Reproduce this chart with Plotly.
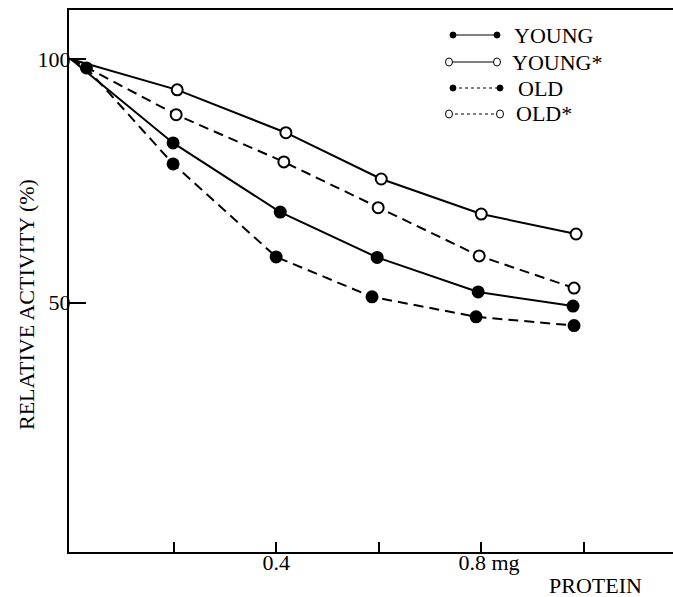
import plotly.graph_objects as go

# ---- data ----
young_x = [0, 0.199, 0.408, 0.597, 0.794, 0.979]
young_y = [100, 82.8, 68.6, 59.3, 52.2, 49.3]
young_star_x = [0, 0.207, 0.419, 0.605, 0.800, 0.985]
young_star_y = [100, 93.7, 84.9, 75.4, 68.2, 64.1]
old_x = [0, 0.03, 0.199, 0.400, 0.587, 0.790, 0.981]
old_y = [100, 98.2, 78.5, 59.4, 51.2, 47.1, 45.3]
old_star_x = [0, 0.205, 0.415, 0.599, 0.796, 0.981]
old_star_y = [100, 88.6, 78.9, 69.5, 59.6, 53.0]

x_tickvals = [0.2, 0.4, 0.6, 0.8, 1.0]
x_ticktext = ["", "0.4", "", "\u2002\u20090.8 mg", ""]
y_tickvals = [50, 100]
y_ticktext = ["50", "100"]

legend_names = ["YOUNG", "YOUNG*", "OLD", "OLD*"]

FONT = "Liberation Serif"
FS = 22
W, H = 673, 597
ML, MR, MT, MB = 69, 0, 10, 45
PW, PH = W - ML - MR, H - MT - MB


def px(xp):
    return (xp - ML) / PW


def py(yp):
    return (H - MB - yp) / PH


fig = go.Figure()


def add_series(x, y, filled, dash, name, size):
    sizes = [0] + [size] * (len(x) - 1)
    fig.add_trace(go.Scatter(
        x=x, y=y, mode="lines+markers", name=name,
        line=dict(color="#000000", width=2, dash=dash),
        marker=dict(size=sizes, symbol="circle", opacity=1,
                    color="#000000" if filled else "#ffffff",
                    line=dict(color="#000000", width=2)),
        showlegend=False,
    ))


add_series(young_star_x, young_star_y, False, "solid", legend_names[1], 11)
add_series(old_star_x, old_star_y, False, "10px,6px", legend_names[3], 11)
add_series(young_x, young_y, True, "solid", legend_names[0], 11)
add_series(old_x, old_y, True, "10px,6px", legend_names[2], 11)

fig.update_layout(
    width=W, height=H,
    margin=dict(l=ML, r=MR, t=MT, b=MB),
    paper_bgcolor="white", plot_bgcolor="white",
    font=dict(family=FONT, size=FS, color="black"),
)
fig.update_xaxes(
    range=[-0.004, 1.174], showgrid=False, zeroline=False,
    showline=True, linecolor="black", linewidth=2, mirror=True,
    ticks="inside", ticklen=10, tickwidth=2, tickcolor="black",
    tickvals=x_tickvals, ticktext=x_ticktext,
    tickfont=dict(family=FONT, size=FS), ticklabelstandoff=-10,
)
fig.update_yaxes(
    range=[-1.2, 110.1], showgrid=False, zeroline=False,
    showline=True, linecolor="black", linewidth=2,
    ticks="inside", ticklen=17, tickwidth=2, tickcolor="black",
    tickvals=y_tickvals, ticktext=y_ticktext,
    tickfont=dict(family=FONT, size=FS), ticklabelstandoff=-8,
)

annotations = [
    dict(text="RELATIVE ACTIVITY (%)", xref="paper", yref="paper",
         x=px(26), y=py(305), xanchor="center", yanchor="middle",
         textangle=-90, showarrow=False,
         font=dict(family=FONT, size=FS)),
    dict(text="PROTEIN", xref="paper", yref="paper",
         x=px(595), y=py(585), xanchor="center", yanchor="middle",
         showarrow=False,
         font=dict(family=FONT, size=FS)),
]

# custom legend
rows_y = [35, 62, 88, 114]
left_x = [453, 449, 453, 449]
right_x = [497, 497, 500, 500]
text_x = [512, 510, 516, 514]
fills = [True, False, True, False]
dashes = ["solid", "solid", "dot", "dot"]
shapes = []
for i, name in enumerate(legend_names):
    yy = py(rows_y[i])
    shapes.append(dict(type="line", xref="paper", yref="paper",
                       x0=px(left_x[i]), x1=px(right_x[i]), y0=yy, y1=yy,
                       line=dict(color="black", width=1, dash=dashes[i])))
    for cx in (left_x[i], right_x[i]):
        r = 3 if fills[i] else 3.5
        shapes.append(dict(type="circle", xref="paper", yref="paper",
                           xsizemode="pixel", ysizemode="pixel",
                           xanchor=px(cx), yanchor=yy,
                           x0=-r, x1=r, y0=-r - (0 if fills[i] else 0.5),
                           y1=r + (0 if fills[i] else 0.5),
                           fillcolor="black" if fills[i] else "white",
                           line=dict(color="black", width=1)))
    annotations.append(dict(text=name, xref="paper", yref="paper",
                            x=px(text_x[i]), y=yy, xanchor="left",
                            yanchor="middle", showarrow=False,
                            font=dict(family=FONT, size=FS)))

fig.update_layout(annotations=annotations, shapes=shapes)
fig.write_html("out.html",
               config={"displayModeBar": False},
               post_script="document.body.style.margin='0';"
                           "document.body.style.overflow='hidden';")
